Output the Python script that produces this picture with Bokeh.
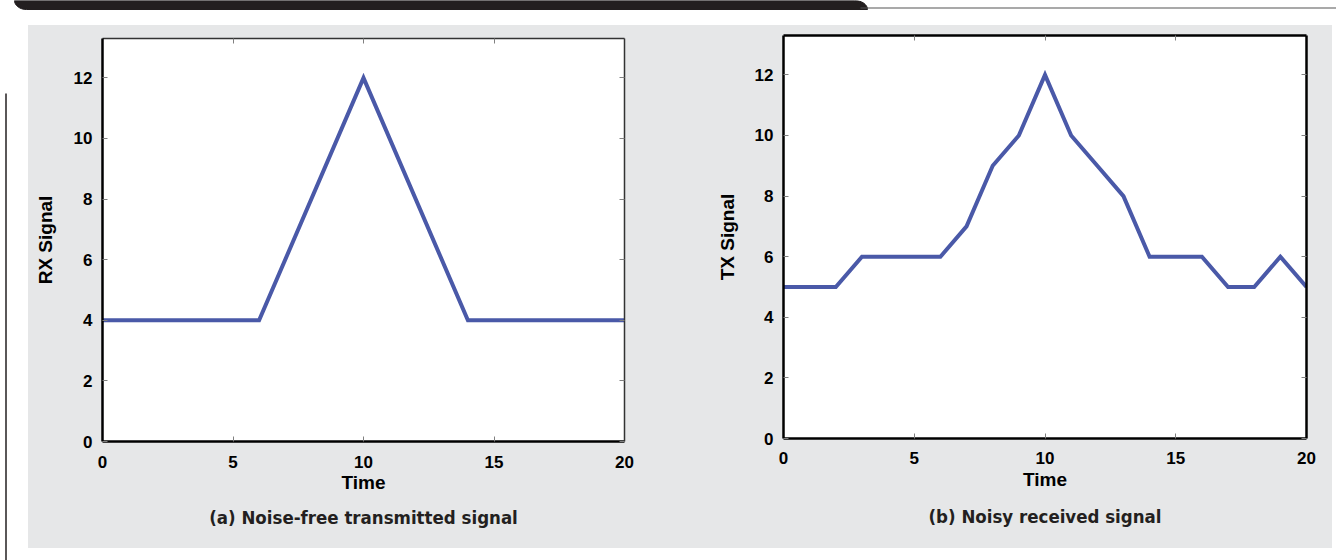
import numpy as np
from bokeh.plotting import figure
from bokeh.models import Range1d, LinearAxis, FixedTicker, Title, Spacer, CustomJSTickFormatter
from bokeh.layouts import column, row
from bokeh.embed import file_html
from bokeh.resources import INLINE

# ---- data ----
time_a = [0, 6, 10, 14, 20]
signal_a = [4, 4, 12, 4, 4]
time_b = list(range(21))
signal_b = [5, 5, 5, 6, 6, 6, 6, 7, 9, 10, 12, 10, 9, 8, 6, 6, 6, 5, 5, 6, 5]
x_ticks = [0, 5, 10, 15, 20]
y_ticks = [0, 2, 4, 6, 8, 10, 12]
ylabel_a = "RX Signal"
ylabel_b = "TX Signal"
xlabel = "Time"
caption_a = "(a) Noise-free transmitted signal"
caption_b = "(b) Noisy received signal"

# ---- style ----
GRAY = "#e6e7e8"
LINE = "#4a59a8"
FONT = "Liberation Sans"
NARROW = "'Liberation Sans Narrow', 'DejaVu Sans Condensed', 'Roboto Condensed', 'Liberation Sans'"


def style_axis(ax, ticks, line_width, line_color, labels=True):
    ax.ticker = FixedTicker(ticks=ticks)
    ax.major_tick_in = 5
    ax.major_tick_out = 0
    ax.minor_tick_in = 0
    ax.minor_tick_out = 0
    ax.major_tick_line_color = "#808080"
    ax.major_tick_line_width = 1
    ax.axis_line_color = line_color
    ax.axis_line_width = line_width
    if labels:
        ax.major_label_text_font = FONT
        ax.major_label_text_font_size = "17px"
        ax.major_label_text_font_style = "bold"
        ax.major_label_text_color = "black"
        ax.axis_label_text_font = FONT
        ax.axis_label_text_font_size = "19px"
        ax.axis_label_text_font_style = "bold"
        ax.axis_label_text_color = "black"
    else:
        ax.formatter = CustomJSTickFormatter(code="return ''")
        ax.major_label_standoff = 0
        ax.major_label_text_font_size = "1px"


def make_panel(xs, ys, ylabel, caption, width, height, left, right, top, bottom,
               mirror_w, mirror_c, xstand, xlstand, ystand, cap_stand):
    p = figure(width=width, height=height, x_range=Range1d(0, 20), y_range=Range1d(0, 13.3),
               output_backend="svg", toolbar_location=None,
               min_border_left=left, min_border_right=right,
               min_border_top=top, min_border_bottom=bottom,
               background_fill_color="white", border_fill_color=GRAY,
               outline_line_color=None)
    p.grid.visible = False
    p.line(xs, ys, line_color=LINE, line_width=4, line_join="miter")
    style_axis(p.xaxis[0], x_ticks, 2.5, "black")
    style_axis(p.yaxis[0], y_ticks, 2.5, "black")
    p.xaxis[0].axis_label = xlabel
    p.yaxis[0].axis_label = ylabel
    p.xaxis[0].major_label_standoff = xstand
    p.xaxis[0].axis_label_standoff = xlstand
    p.yaxis[0].major_label_standoff = 10
    p.yaxis[0].axis_label_standoff = ystand
    top_ax = LinearAxis()
    style_axis(top_ax, x_ticks, mirror_w, mirror_c, labels=False)
    p.add_layout(top_ax, "above")
    right_ax = LinearAxis()
    style_axis(right_ax, y_ticks, mirror_w, mirror_c, labels=False)
    p.add_layout(right_ax, "right")
    p.add_layout(Title(text=caption, align="center", text_font=NARROW,
                       text_font_size="18.5px", text_font_style="bold",
                       text_color="#231f20", standoff=cap_stand), "below")
    return p


pa = make_panel(time_a, signal_a, ylabel_a, caption_a, 662, 523, 74, 66, 13, 107,
                1.5, "#333333", 14, 1, 15, 19)
pb = make_panel(time_b, signal_b, ylabel_b, caption_b, 642, 520, 93, 26, 10, 107,
                2.5, "black", 13, 2, 14, 22)

# ---- decorations: header tab and left rule ----
header = figure(width=1336, height=25, x_range=Range1d(0, 1336), y_range=Range1d(25, 0),
                output_backend="svg", toolbar_location=None, min_border=0,
                outline_line_color=None, background_fill_color="white",
                border_fill_color="white")
header.axis.visible = False
header.grid.visible = False
t = np.linspace(0, np.pi / 2, 12)
left_x = list(26 - 12 * np.cos(t))
left_y = list(9 * np.sin(t))
right_x = list(854 + 13 * np.sin(t))
right_y = list(9 - 9 * np.cos(t))
hx = [14, 854] + right_x[1:] + left_x[::-1][:-1]
hy = [0, 0] + right_y[1:] + left_y[::-1][:-1]
header.patch(hx, hy, fill_color="#231f20", line_color="#231f20")
header.line([860, 1336], [7.5, 7.5], line_color="#555555", line_width=1.2)

strip = figure(width=28, height=535, x_range=Range1d(0, 28), y_range=Range1d(560, 25),
               output_backend="svg", toolbar_location=None, min_border=0,
               outline_line_color=None, background_fill_color="white",
               border_fill_color="white")
strip.axis.visible = False
strip.grid.visible = False
strip.line([5.5, 5.5], [93, 560], line_color="#231f20", line_width=1.5)

plots = row(pa, column(pb, Spacer(width=642, height=3)), styles={"background-color": GRAY})
layout = column(
    header,
    row(strip, column(plots, Spacer(width=1304, height=12))),
)

open("out.html", "w").write(file_html(layout, INLINE))
